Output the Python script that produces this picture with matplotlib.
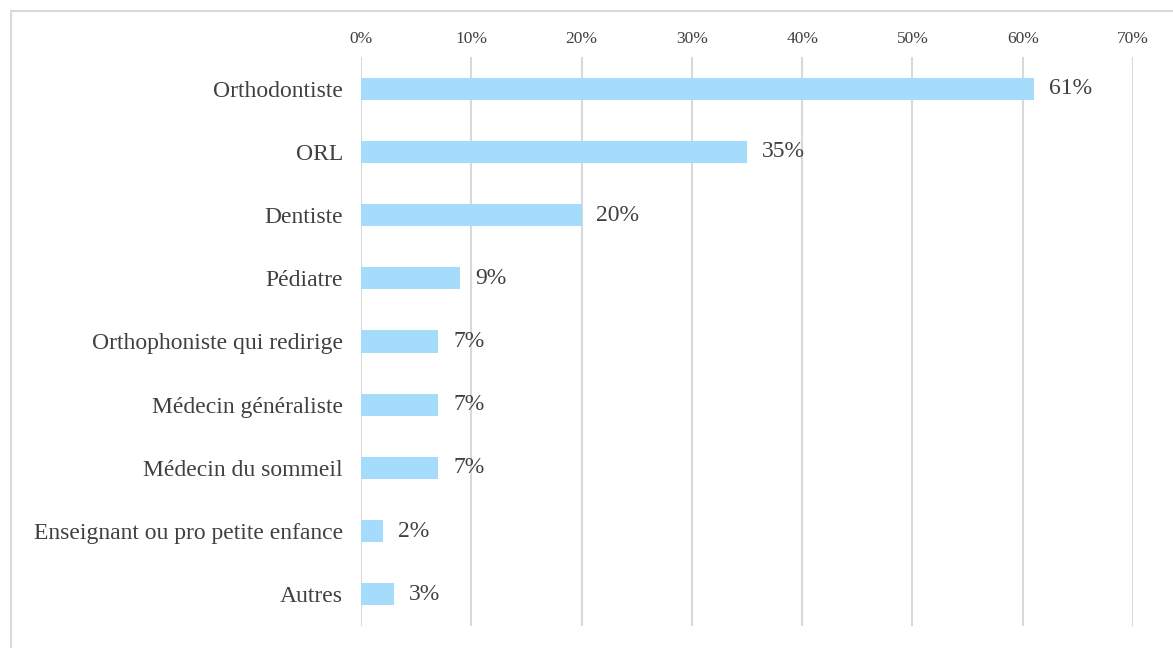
import matplotlib
matplotlib.use("Agg")
import matplotlib.pyplot as plt
from matplotlib.ticker import PercentFormatter
from matplotlib.patches import Rectangle

categories = ["Orthodontiste", "ORL", "Dentiste", "Pédiatre", "Orthophoniste qui redirige",
              "Médecin généraliste", "Médecin du sommeil", "Enseignant ou pro petite enfance", "Autres"]
values = [61, 35, 20, 9, 7, 7, 7, 2, 3]
ticks = [0, 10, 20, 30, 40, 50, 60, 70]

plt.rcParams['font.family'] = ['Liberation Serif', 'DejaVu Serif']
W, H = 1173, 648
fig = plt.figure(figsize=(W/100, H/100), dpi=100)
ax = fig.add_axes([361/W, 1-626/H, (1133-361)/W, (626-57)/H])

y = list(range(len(categories)))
ax.barh(y, values, height=0.35, color="#a6dcfb", zorder=3)
ax.set_ylim(len(categories)-0.5, -0.5)
ax.set_xlim(0, 70)
ax.set_xticks(ticks)
ax.xaxis.set_major_formatter(PercentFormatter(decimals=0))
ax.xaxis.tick_top()
ax.tick_params(axis='x', length=0, pad=7, labelsize=12.5, labelcolor="#404040")
ax.set_yticks(y)
ax.set_yticklabels(categories)
ax.tick_params(axis='y', length=0, pad=13, labelsize=17, labelcolor="#404040")
ax.grid(axis='x', color="#d9d9d9", linewidth=1.5, zorder=0)
for s in ax.spines.values():
    s.set_visible(False)
for yi, v in zip(y, values):
    ax.text(v + 1.35, yi, f"{v}%", va='center', ha='left', fontsize=17, color="#404040")

fig.patches.append(Rectangle((11/W, -0.1), 1.2, 1 - 11/H + 0.1, transform=fig.transFigure,
                             fill=False, edgecolor="#d9d9d9", linewidth=1.5))
fig.savefig("out.png", dpi=100)
